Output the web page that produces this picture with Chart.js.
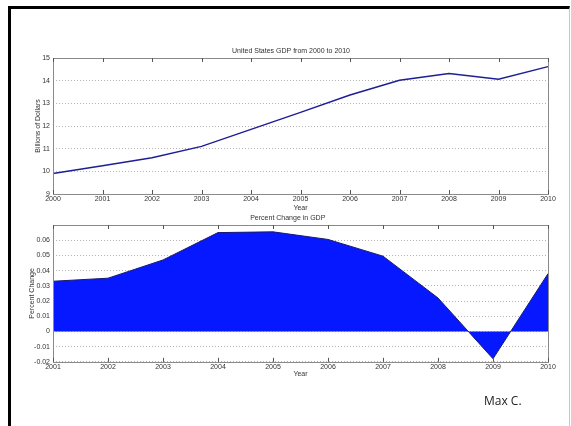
<!DOCTYPE html>
<html>
<head>
<meta charset="utf-8">
<script src="https://cdn.jsdelivr.net/npm/chart.js@4"></script>
<style>
  html, body { margin: 0; padding: 0; background: #fff; }
  body { width: 571px; height: 426px; position: relative; overflow: hidden; }
  #frame { position: absolute; left: 8px; top: 6px; width: 558px; height: 430px;
           border-left: 3px solid #000; border-top: 3px solid #000; border-right: 1px solid #c8c8c8; }
  #gdpChart { position: absolute; left: 0; top: 0; }
  #pctChart { position: absolute; left: 0; top: 212px; }
  #author { position: absolute; left: 484px; top: 392px; font: 12px "Open Sans", "Liberation Sans", sans-serif; color: #222; }
</style>
</head>
<body>
<div id="frame"></div>
<canvas id="gdpChart" width="571" height="212"></canvas>
<canvas id="pctChart" width="571" height="214"></canvas>
<div id="author">Max C.</div>
<script>
const gdpYears = ['2000', '2001', '2002', '2003', '2004', '2005', '2006', '2007', '2008', '2009', '2010'];
const gdpValues = [9.9, 10.25, 10.6, 11.1, 11.85, 12.6, 13.37, 14.02, 14.32, 14.06, 14.62];

const pctYears = ['2001', '2002', '2003', '2004', '2005', '2006', '2007', '2008', '2009', '2010'];
const pctValues = [0.033, 0.035, 0.047, 0.065, 0.0655, 0.0605, 0.0495, 0.022, -0.018, 0.038];

const tinyFont = { family: 'Liberation Sans, Arial, sans-serif', size: 7, weight: 'normal' };
const textColor = '#333';

// box around the plot area plus inward x ticks, like the matlab figure
const boxPlugin = {
  id: 'box',
  afterDraw(chart) {
    const { ctx, chartArea: a, scales } = chart;
    ctx.save();
    ctx.strokeStyle = '#8a8a8a';
    ctx.lineWidth = 1;
    ctx.strokeRect(Math.round(a.left) + 0.5, Math.round(a.top) + 0.5,
      Math.round(a.right - a.left), Math.round(a.bottom - a.top));
    ctx.strokeStyle = '#555';
    scales.x.ticks.forEach((t, i) => {
      const x = Math.round(scales.x.getPixelForTick(i)) + 0.5;
      ctx.beginPath();
      ctx.moveTo(x, a.top); ctx.lineTo(x, a.top + 4);
      ctx.moveTo(x, a.bottom); ctx.lineTo(x, a.bottom - 4);
      ctx.stroke();
    });
    ctx.restore();
  }
};

function makeOptions(cfg) {
  return {
    responsive: false,
    animation: false,
    layout: { padding: { left: cfg.padLeft, right: 23, top: 0, bottom: cfg.padBottom } },
    plugins: {
      legend: { display: false },
      tooltip: { enabled: false },
      title: {
        display: true, text: cfg.title, color: textColor, font: tinyFont,
        padding: { top: cfg.titleTop, bottom: cfg.titleBottom }
      }
    },
    scales: {
      x: {
        grid: { display: false, drawTicks: false },
        border: { display: false },
        ticks: { color: textColor, font: tinyFont, padding: 1, maxRotation: 0, autoSkip: false },
        title: { display: true, text: 'Year', color: textColor, font: tinyFont, padding: 0 },
        afterFit: s => { s.height = cfg.xHeight; }
      },
      y: {
        min: cfg.min, max: cfg.max,
        grid: { color: '#b4b4b4', drawTicks: false, lineWidth: 1 },
        border: { display: false, dash: [1, 2] },
        ticks: {
          color: textColor, font: tinyFont, padding: 3, stepSize: cfg.step,
          callback: cfg.tickCb
        },
        title: { display: true, text: cfg.yTitle, color: textColor, font: tinyFont, padding: 0 },
        afterFit: s => { s.width = cfg.yWidth; }
      }
    }
  };
}

new Chart(document.getElementById('gdpChart'), {
  type: 'line',
  data: {
    labels: gdpYears,
    datasets: [{
      data: gdpValues,
      borderColor: '#1e1e96',
      borderWidth: 1.5,
      pointRadius: 0,
      tension: 0
    }]
  },
  options: makeOptions({
    title: 'United States GDP from 2000 to 2010',
    yTitle: 'Billions of Dollars',
    padLeft: 34, yWidth: 19, padBottom: 0, xHeight: 18,
    titleTop: 46.6, titleBottom: 3,
    min: 9, max: 15, step: 1,
    tickCb: v => v
  }),
  plugins: [boxPlugin]
});

new Chart(document.getElementById('pctChart'), {
  type: 'line',
  data: {
    labels: pctYears,
    datasets: [{
      data: pctValues,
      borderColor: '#1a1a70',
      borderWidth: 1,
      backgroundColor: '#0618ff',
      fill: 'origin',
      pointRadius: 0,
      tension: 0
    }]
  },
  options: makeOptions({
    title: 'Percent Change in GDP',
    yTitle: 'Percent Change',
    padLeft: 27.5, yWidth: 25.5, padBottom: 48, xHeight: 16.2,
    titleTop: 1.8, titleBottom: 2.8,
    min: -0.02, max: 0.07, step: 0.01,
    tickCb: v => (Math.abs(v - 0.07) < 1e-9 ? '' : +v.toFixed(2))
  }),
  plugins: [boxPlugin]
});
</script>
</body>
</html>
